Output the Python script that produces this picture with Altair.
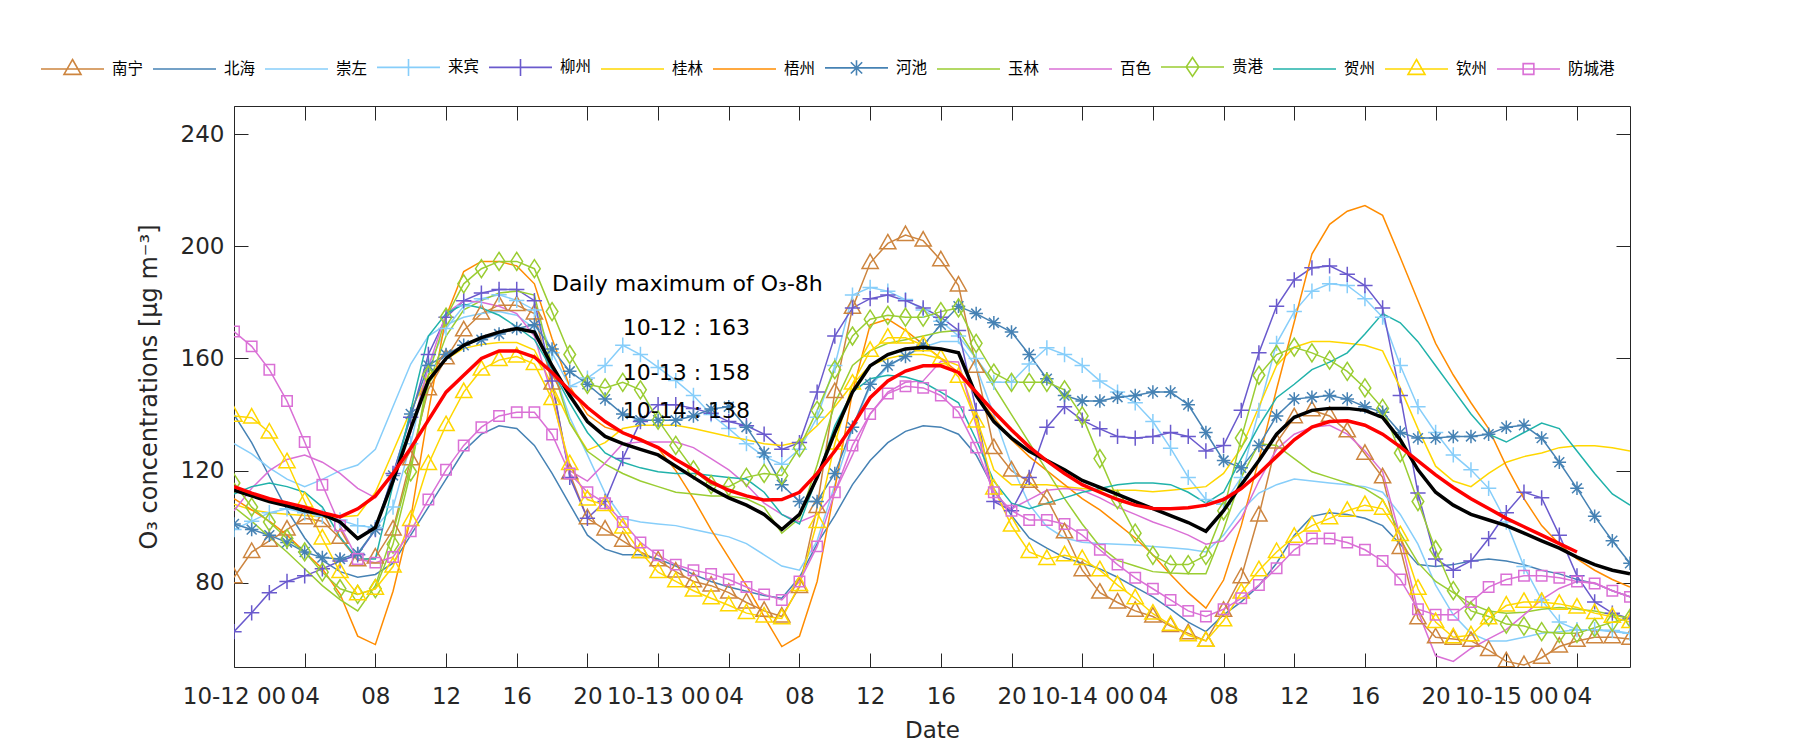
import altair as alt
import pandas as pd

# ---------------- data ----------------
hours = list(range(80))
tick_hours = list(range(0, 80, 4))
tick_labels = ['10-12 00', '04', '08', '12', '16', '20',
               '10-13 00', '04', '08', '12', '16', '20',
               '10-14 00', '04', '08', '12', '16', '20',
               '10-15 00', '04']
y_ticks = [80, 120, 160, 200, 240]

cities = ['南宁', '北海', '崇左', '来宾', '柳州', '桂林', '梧州',
          '河池', '玉林', '百色', '贵港', '贺州', '钦州', '防城港']
colors = ['#CD853F', '#4682B4', '#87CEFA', '#87CEFA', '#6A5ACD', '#FFD700', '#FF8C00',
          '#4682B4', '#9ACD32', '#DA70D6', '#9ACD32', '#20B2AA', '#FFD700', '#DA70D6']
marker_cities = ['南宁', '来宾', '柳州', '河池', '贵港', '钦州', '防城港']

nanning = [82, 91, 95, 99, 103, 102, 96, 88, 89, 99, 124, 149, 160, 170, 176, 179, 179, 176, 151, 119,
           103, 99, 95, 91, 88, 84, 80.5, 79, 76.5, 73, 70, 68, 78.5, 107, 148, 178, 194, 201, 204, 202,
           195, 186, 157, 128, 120, 116, 110, 98, 84.5, 76.5, 73, 70, 68, 64.6, 62, 59.3, 70, 82, 104, 130,
           139, 141.5, 139.5, 134, 126, 117.6, 92.4, 67.3, 60.6, 60, 59.3, 56, 52, 50.7, 53.3, 57.3, 59.3, 60.6, 60.6, 60]
beihai = [140, 130, 118, 106, 96, 88, 84, 82, 83, 87, 97, 107, 117, 127, 133, 136, 135, 129, 119, 108,
          97, 92, 90, 90, 88.5, 86, 83, 80.5, 78.5, 77, 75.5, 74.5, 82, 94, 104, 115, 123.6, 130, 134, 136,
          135.5, 133, 125.6, 113.6, 104, 96, 92.4, 89, 87, 85, 82, 78.5, 75, 70.6, 66, 62.6, 68.6, 73.2, 79, 87,
          97, 103.7, 105, 104.4, 103, 100.4, 93.8, 86.5, 85.8, 86.5, 87.8, 88.5, 87.8, 86.5, 84.5, 83.2, 81.2, 79.8, 77.2, 75]
chongzuo = [129.6, 126, 121, 117, 114.3, 116.9, 120, 122, 127.6, 142.9, 158, 168, 172, 174.7, 176, 176.7, 175.4, 170.7, 157.5, 139,
            125.6, 112, 103, 101.7, 101, 100.4, 99, 97.7, 96.4, 94, 90, 86, 84.5, 95, 115, 135, 150, 157, 161, 164,
            166, 166, 157, 140, 122, 108, 100, 96, 94.5, 94, 93.8, 93.5, 93, 92.5, 92, 91, 97, 105.7, 112, 115,
            117, 116.3, 115.6, 115, 114.3, 112.3, 104.4, 93.8, 79.2, 68.6, 62, 59.3, 59.3, 60.6, 62, 62.6, 63.3, 63.3, 62.6, 62]
laibin = [99, 102, 105, 106.4, 105, 103.7, 102.4, 100.4, 99.7, 107, 129.6, 157.5, 170.7, 178.7, 181.3, 182.7, 180.7, 177.3, 162, 150,
          153, 157.5, 164.7, 161.4, 156.8, 152.1, 146.8, 140, 135, 129.6, 125, 122.3, 127.6, 139, 157.5, 182.6, 185.3, 184, 181, 177.3,
          173.3, 168, 160, 151.5, 151.5, 158, 163.8, 161.4, 157.5, 152, 148, 144.2, 137.5, 128, 117.6, 109.7, 108, 117.6, 141.5, 165.4,
          176.7, 184, 186.6, 186, 181.3, 174.7, 157.5, 142.8, 133.6, 125.6, 120.3, 113.7, 101.7, 85.8, 73.9, 66, 63.3, 63.3, 63, 62]
liuzhou = [62.6, 69.3, 76.5, 80.5, 82.5, 85, 87.8, 90, 99, 119, 139, 161.4, 174.7, 180.6, 183.3, 184.6, 184.6, 180.6, 152, 117.6,
           103, 109, 124.3, 137.5, 143.5, 143.5, 142.2, 140.5, 137.5, 136, 133, 127.6, 130, 148, 168, 178, 181.3, 182.6, 180.6, 178,
           174.7, 170, 141.5, 109, 105.7, 117.6, 135.5, 142.8, 138, 134.9, 132.2, 131.6, 132.2, 133.6, 132.2, 127, 129, 141.5, 162, 178.6,
           188, 192.3, 193, 190, 186, 178, 146.8, 112, 88.5, 84.5, 87.8, 95.8, 105, 112.3, 110.3, 97, 82.5, 73.2, 69.2, 67.3]
guilin = [108, 106, 105, 104.5, 104, 103.5, 103.5, 104, 112.3, 126.8, 141.5, 154, 159.7, 163.6, 165, 165.7, 165.7, 163, 150.5, 137.3,
          127.3, 130, 135, 136.2, 136.2, 136.2, 135, 133.6, 132.2, 131, 129.6, 129, 130.3, 136, 142.8, 150.8, 157.5, 160, 161.4, 161.4,
          160, 157.5, 139, 120.3, 115, 115, 115, 114.3, 113.6, 113, 113, 113, 112.5, 113, 113.6, 114.3, 119, 128, 142.8, 157.5,
          164, 166, 166, 165.4, 164.7, 162.7, 149.5, 135, 121.6, 116.3, 114.3, 119, 123, 125, 126.3, 128.2, 128.9, 128.9, 128.2, 127]
wuzhou = [110, 106, 102, 97, 91, 85, 76, 61, 58, 77, 103, 141, 175, 191, 194.6, 194.6, 193, 186.6, 167, 150,
          140, 135.5, 133.6, 131.5, 128, 120, 110, 99, 89, 79, 68, 57.3, 61, 80.5, 113.6, 148, 172, 174, 170, 165,
          160, 155, 147, 139, 131, 125, 120, 115, 110, 106, 101, 96, 90, 83, 76.5, 71, 81, 100.4, 124, 149,
          173, 197.2, 207.8, 212.5, 214.5, 211, 196, 180.6, 165.4, 154.1, 144.2, 135, 121.6, 110, 100.4, 93.8, 88.5, 84.5, 81.2, 78.5]
hechi = [101, 99, 97, 94.4, 91, 89, 88.5, 90.5, 99, 118.3, 140.2, 157.5, 161.4, 164.7, 166.7, 168.7, 170.7, 172, 163.4, 155.4,
         150.8, 145.5, 140.2, 138, 138, 138, 139.5, 142, 142.8, 135.5, 126.3, 115, 109, 109, 119, 135.5, 150.8, 157.5, 160.7, 164.7,
         172, 178.6, 176, 172.7, 169.4, 161.4, 152.8, 146.8, 144.8, 144.8, 146.2, 146.8, 148, 148, 143.5, 133.6, 123.6, 121, 129, 139.5,
         145.5, 146.2, 146.8, 145.5, 142.8, 140.8, 133.6, 131.6, 131.6, 132.2, 132.2, 133, 135.5, 136.2, 131.6, 123, 113.7, 103.7, 95, 87]
yulin = [107, 102, 96.4, 91, 85, 79, 74, 70, 79, 98, 121.6, 150.8, 168, 177.3, 180.6, 183.3, 184, 182.6, 157, 137,
         126.9, 122.3, 119, 116.3, 114.3, 112.3, 111.7, 111, 111, 110, 107, 97.7, 103, 122, 144, 157.5, 162.7, 165.4, 166.7, 168,
         169.4, 170, 160, 150, 140, 130, 120, 110, 101, 93, 88, 86, 84, 83.5, 83.2, 83.2, 99, 117.6, 129.6, 129,
         124.3, 119.6, 117.6, 115.6, 113.6, 109.7, 97.7, 87.2, 80.5, 76.5, 72.5, 70, 69.2, 69.5, 70.6, 71.2, 70.6, 70, 68.6, 67.3]
baise = [105.7, 113.7, 120, 124, 125.6, 123, 119, 113.7, 110.3, 119, 133.6, 157, 176, 180.6, 180, 178.6, 176, 168, 146.8, 120,
         116.3, 122.7, 129.6, 130.2, 130.2, 130.2, 128.2, 124.3, 120.3, 115, 108.4, 104.4, 101.7, 104.4, 112.3, 125.6, 140.2, 148, 151.5, 152,
         159, 158.7, 136, 109.7, 106.4, 109.7, 113, 113.6, 113, 110.3, 107, 104.4, 101.7, 99.5, 97, 93.8, 95, 103, 116.3, 127.6,
         133, 135.5, 136.2, 133, 127, 119.6, 96.4, 69.9, 54, 52, 56.6, 60, 63.3, 68.6, 74, 78, 80.5, 80, 77.2, 75]
guigang = [115.6, 107, 101.7, 95.8, 91, 83.8, 77.9, 75.9, 77.9, 93.8, 119.6, 154.1, 174.7, 186.6, 192, 194.6, 194.6, 192, 176.7, 161.4,
           150.8, 149.5, 151.5, 148.8, 138, 129, 120.3, 115, 114.3, 117.6, 119, 118.3, 128.2, 141.5, 156, 168, 174, 175.4, 174.7, 174.7,
           176.7, 178, 165.4, 154.8, 151.5, 151.5, 151.5, 148.8, 139.5, 124.3, 109.7, 97.7, 89.8, 86.5, 86.5, 89.8, 105.7, 131.6, 154, 161.4,
           164, 162, 159.4, 155.4, 149.5, 142.2, 126.3, 109, 91.8, 77.2, 70, 68, 65.3, 64.6, 62.6, 62, 62, 64, 66, 67.3]
hezhou = [111.7, 114.3, 115.6, 114.3, 112.3, 107, 96.4, 88.5, 88.5, 115, 141.5, 168, 176, 179.3, 178, 175.4, 171.3, 166.7, 156, 144.2,
          133.6, 126.3, 123, 121, 119.6, 119, 119, 118.3, 117.6, 117, 112.3, 104.4, 101, 117.6, 136, 148, 152.8, 154, 153.4, 151.5,
          148, 144.2, 131, 116.3, 108.4, 106.4, 108.4, 110.3, 112.3, 113.6, 115, 115.6, 115.6, 115, 112.3, 108.4, 112.3, 124.3, 136, 146,
          150.8, 156, 158.7, 162, 168.7, 176, 172.7, 166, 157.4, 148.8, 140.2, 133, 130.2, 133.6, 137, 135, 127, 119, 111.7, 107.7]
qinzhou = [139.5, 138.9, 133.6, 123, 109, 95.8, 83.8, 75.9, 77.9, 85.8, 102.4, 122.3, 136.2, 148, 156, 159.4, 160.7, 158, 145.5, 122.3,
           109.7, 107.7, 99.7, 91, 83.8, 80.5, 77.2, 74.5, 72, 69.2, 68, 67.3, 79.2, 101.7, 129.6, 151, 162.7, 167.4, 167.4, 164.7,
           160, 153.4, 137.5, 113.6, 100.4, 91, 88.5, 89.8, 88.5, 84.5, 79.2, 74.5, 69, 65, 61.3, 59.3, 66.6, 76.5, 84.5, 91,
           96.4, 100.4, 103, 105.7, 107.7, 106.4, 97, 77.9, 66, 60.6, 61.3, 67.3, 71.9, 73.2, 73.2, 72.5, 71.2, 69.2, 67.9, 66]
fangchenggang = [169.6, 164.3, 156, 144.8, 130.2, 115, 100.4, 88.5, 87.2, 89.2, 98.4, 109.7, 120.3, 129, 135.5, 139.5, 140.8, 140.8, 132.9, 119,
                 112.3, 108.4, 101.7, 94.4, 89.8, 86.5, 84.5, 83.2, 81.2, 78.5, 75.9, 73.9, 80.5, 93, 112.3, 129, 140.2, 147.5, 150.1, 149.5,
                 146.8, 140.8, 128.2, 112.3, 105.7, 102.4, 102.4, 101, 97, 91.8, 86.5, 81.8, 77.9, 73.9, 70, 68, 70.6, 74.5, 79.2, 85.2,
                 91.8, 95.8, 95.8, 94.4, 91.8, 87.8, 81.2, 70.6, 68.6, 68.6, 73.2, 78.5, 81.2, 82.5, 82.5, 81.8, 80.5, 79.8, 77.2, 75]
mean_all = [113, 111, 109, 107.5, 105.7, 104.4, 101.7, 95.8, 99.7, 116.3, 135, 152.1, 160, 164.7, 167.4, 169.4, 170.7, 169.4, 157.4, 146.8,
            137.5, 132.2, 129.6, 127.6, 125.6, 121.6, 117.6, 113.6, 110.3, 107.7, 104.4, 99, 104.4, 117.6, 133.6, 148, 157.4, 161.4, 163.4, 164,
            163.4, 162, 146.8, 137.5, 131.6, 126.9, 123.6, 120.3, 116.5, 114, 111.5, 109, 106.5, 104, 101.5, 98.4, 105.7, 115, 123.6, 133,
            139, 141.5, 142.2, 142.2, 141.5, 139, 131, 120.3, 112.3, 107.7, 104.4, 102.4, 100.4, 97.7, 95, 92.4, 89.2, 86.5, 84.5, 83.2]
mean_8h = [114.3, 112, 110, 108.5, 107, 105, 103.5, 106.4, 111, 119, 128, 138, 148, 154, 160, 162.7, 162.7, 160.5, 155, 148.5,
           142.5, 137.5, 133.5, 131, 128.2, 124, 120.3, 116, 113, 111, 109.5, 109.7, 112.3, 119, 127, 136, 146, 152, 155.5, 157.4,
           157.4, 155, 148, 141, 134.5, 128.5, 123.5, 119, 115, 112.3, 109.7, 107.7, 106.5, 106.4, 106.8, 107.7, 109.7, 113.6, 119, 125,
           131, 135.5, 137.5, 137.8, 136.2, 133, 128.5, 123.5, 118.5, 114, 110, 106.5, 103, 100, 97, 94, 91]

note_text = ['Daily maximum of O\u2083-8h', '10-12 : 163', '10-13 : 158', '10-14 : 138']
note_h = [18.0, 22.0, 22.0, 22.0]
note_v = [186.7, 170.7, 154.8, 141.3]

# ---------------- tables ----------------
series = [nanning, beihai, chongzuo, laibin, liuzhou, guilin, wuzhou,
          hechi, yulin, baise, guigang, hezhou, qinzhou, fangchenggang]
rows = []
for c, vals in zip(cities, series):
    for h, v in zip(hours, vals):
        rows.append({'city': c, 'h': h, 'v': v})
df = pd.DataFrame(rows)
df_mark = df[df['city'].isin(marker_cities)]
df_mean = pd.DataFrame({'h': hours, 'v': mean_all})
df_8h = pd.DataFrame({'h': hours[:len(mean_8h)], 'v': mean_8h})
df_note = pd.DataFrame({'h': note_h, 'v': note_v, 't': note_text})
df_leg = pd.DataFrame({'city': cities, 'h': [0] * len(cities), 'v': [-1000] * len(cities)})

W, H = 1396, 561
FONT = 'DejaVu Sans'
AX = '#262626'

xs = alt.Scale(domain=[0, 79], nice=False, zero=False)
ys = alt.Scale(domain=[50, 250], nice=False, zero=False)

lab_js = '[' + ','.join("'%s'" % s for s in tick_labels) + ']'

ax_x_main = alt.Axis(orient='bottom', values=tick_hours, labelExpr=lab_js + '[round(datum.value/4)]',
                     ticks=False, tickSize=0, domain=False, grid=False, labelFlush=False, labelOverlap=False,
                     labelFont=FONT, labelFontSize=23, labelColor=AX, labelBaseline='alphabetic',
                     labelPadding=36, title='Date', titleFont=FONT, titleFontSize=23,
                     titleFontWeight='normal', titleColor=AX, titleX=W / 2, titleY=70,
                     titleBaseline='alphabetic', titleAlign='center')
ax_x_up = alt.Axis(orient='top', offset=-H, values=tick_hours, labels=False, domain=False, grid=False,
                   ticks=True, tickSize=14, tickColor=AX, tickWidth=1, title=None)
ax_x_down = alt.Axis(orient='bottom', offset=-H, values=tick_hours, labels=False, domain=False, grid=False,
                     ticks=True, tickSize=14, tickColor=AX, tickWidth=1, title=None)

ax_y_main = alt.Axis(orient='left', values=y_ticks, ticks=False, tickSize=0, domain=False, grid=False,
                     labelFlush=False, labelOverlap=False, labelFont=FONT, labelFontSize=23, labelColor=AX,
                     labelPadding=10, title='O\u2083 concentrations [\u03bcg m\u207b\u00b3]',
                     titleFont=FONT, titleFontSize=24, titleFontWeight='normal', titleColor=AX,
                     titleX=-78, titleY=H / 2, titleAngle=-90, titleAlign='center',
                     titleBaseline='alphabetic')
ax_y_right_in = alt.Axis(orient='right', offset=-W, values=y_ticks, labels=False, domain=False, grid=False,
                         ticks=True, tickSize=14, tickColor=AX, tickWidth=1, title=None)
ax_y_left_in = alt.Axis(orient='left', offset=-W, values=y_ticks, labels=False, domain=False, grid=False,
                        ticks=True, tickSize=14, tickColor=AX, tickWidth=1, title=None)

color_scale = alt.Scale(domain=cities, range=colors)

# marker shapes (custom paths, drawn at size 324 -> 9px per unit)
shape_map = {
    '南宁': 'M0,-1L0.9,0.6L-0.9,0.6Z',
    '来宾': 'M-0.85,0H0.85M0,-0.85V0.85',
    '柳州': 'M-0.85,0H0.85M0,-0.85V0.85',
    '河池': 'M-0.75,0H0.75M0,-0.75V0.75M-0.55,-0.55L0.55,0.55M-0.55,0.55L0.55,-0.55',
    '贵港': 'M0,-1L0.65,0L0,1L-0.65,0Z',
    '钦州': 'M0,-1L0.9,0.6L-0.9,0.6Z',
    '防城港': 'M-0.58,-0.58H0.58V0.58H-0.58Z',
}
marker_shapes = [shape_map[c] for c in marker_cities]

leg_map = {
    '南宁': 'M-1,0H1M0,-0.3L0.27,0.17L-0.27,0.17Z',
    '来宾': 'M-1,0H1M0,-0.27V0.27',
    '柳州': 'M-1,0H1M0,-0.27V0.27',
    '河池': 'M-1,0H1M0,-0.24V0.24M-0.18,-0.18L0.18,0.18M-0.18,0.18L0.18,-0.18',
    '贵港': 'M-1,0H1M0,-0.3L0.2,0L0,0.3L-0.2,0Z',
    '钦州': 'M-1,0H1M0,-0.3L0.27,0.17L-0.27,0.17Z',
    '防城港': 'M-1,0H1M-0.17,-0.17H0.17V0.17H-0.17Z',
}
leg_shapes = [leg_map.get(c, 'M-1,0H1') for c in cities]

legend = alt.Legend(orient='none', legendX=-194, legendY=-72, direction='horizontal', columns=14,
                    title=None, symbolSize=3969, symbolStrokeWidth=1.6, labelFont='Noto Sans CJK SC',
                    labelFontSize=15.5, labelColor='black', labelOffset=7, columnPadding=5, padding=0)

lines = alt.Chart(df).mark_line(strokeWidth=1.5, clip=True).encode(
    x=alt.X('h:Q', scale=xs, axis=ax_x_main),
    y=alt.Y('v:Q', scale=ys, axis=ax_y_main),
    color=alt.Color('city:N', scale=color_scale, legend=None),
)
points = alt.Chart(df_mark).mark_point(filled=False, size=324, strokeWidth=1.5, opacity=1, clip=True).encode(
    x=alt.X('h:Q', scale=xs, axis=ax_x_up),
    y=alt.Y('v:Q', scale=ys, axis=ax_y_right_in),
    color=alt.Color('city:N', scale=color_scale, legend=None),
    shape=alt.Shape('city:N', scale=alt.Scale(domain=marker_cities, range=marker_shapes), legend=None),
)
black = alt.Chart(df_mean).mark_line(color='black', strokeWidth=3.5, clip=True).encode(
    x=alt.X('h:Q', scale=xs, axis=ax_x_down),
    y=alt.Y('v:Q', scale=ys, axis=ax_y_left_in),
)
red = alt.Chart(df_8h).mark_line(color='#FF0000', strokeWidth=3.5, clip=True).encode(
    x=alt.X('h:Q', scale=xs, axis=None),
    y=alt.Y('v:Q', scale=ys, axis=None),
)
notes = alt.Chart(df_note).mark_text(align='left', baseline='middle', font=FONT, fontSize=22,
                                     color='black').encode(
    x=alt.X('h:Q', scale=xs, axis=None),
    y=alt.Y('v:Q', scale=ys, axis=None),
    text='t:N',
)
leg = alt.Chart(df_leg).mark_point(filled=False, clip=True, opacity=1).encode(
    x=alt.X('h:Q', scale=xs, axis=None),
    y=alt.Y('v:Q', scale=ys, axis=None),
    color=alt.Color('city:N', scale=alt.Scale(domain=cities, range=colors), legend=legend),
    shape=alt.Shape('city:N', scale=alt.Scale(domain=cities, range=leg_shapes), legend=legend),
)

chart = alt.layer(lines, points, black, red, notes, leg).resolve_scale(
    shape='independent', color='independent'
).resolve_axis(
    x='independent', y='independent'
).properties(
    width=W, height=H,
    autosize=alt.AutoSizeParams(type='none'),
    padding={'left': 226, 'top': 98, 'right': 150, 'bottom': 75},
).configure_view(stroke=AX, strokeWidth=1)

chart.save('out.html', embed_options={'renderer': 'svg', 'actions': False})
